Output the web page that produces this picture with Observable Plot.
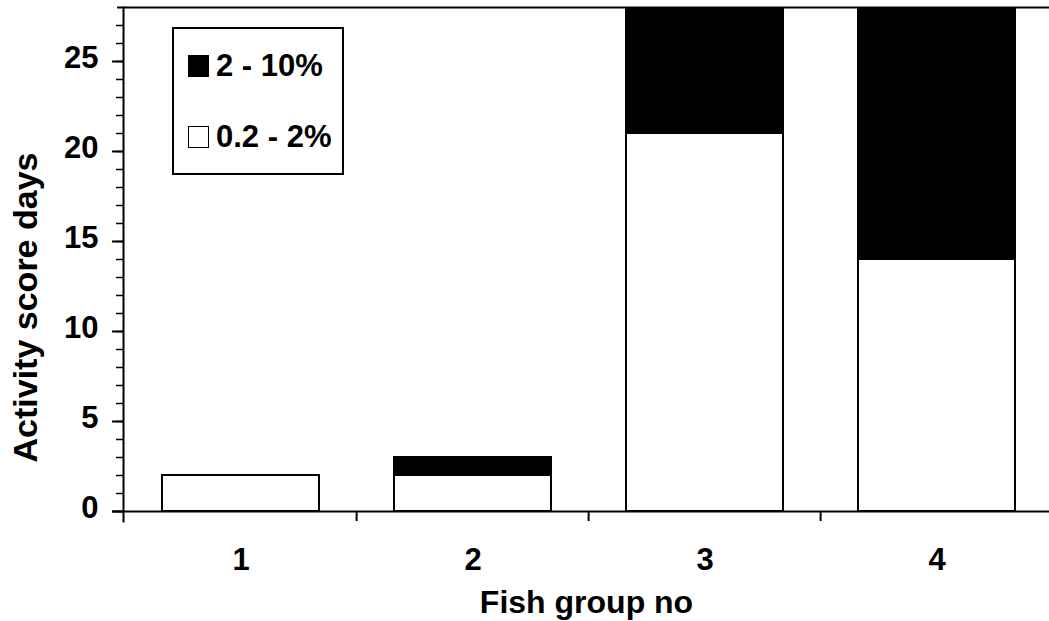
<!DOCTYPE html>
<html>
<head>
<meta charset="utf-8">
<script src="https://cdn.jsdelivr.net/npm/d3@7"></script>
<script src="https://cdn.jsdelivr.net/npm/@observablehq/plot@0.6"></script>
<style>
  html, body { margin: 0; padding: 0; background: #fff; }
  #wrap { position: relative; width: 1049px; height: 621px; font-family: "Liberation Sans", Arial, sans-serif; }
  #legend { position: absolute; left: 172px; top: 27px; width: 168px; height: 144px; border: 2px solid #000; background: #fff; }
  .item { position: absolute; left: 14px; display: flex; align-items: center; font-size: 31px; font-weight: bold; line-height: 1; }
  .sw { width: 19px; height: 20px; border: 1.5px solid #000; margin-right: 7px; }
</style>
</head>
<body>
<div id="wrap"></div>
<script>
const groups = ["1", "2", "3", "4"];
const series = ["0.2 - 2%", "2 - 10%"];
const lowValues = [2, 2, 21, 14];   // 0.2 - 2%
const highValues = [0, 1, 7, 14];   // 2 - 10% (tops clipped at the frame)
const yMajorTicks = [0, 5, 10, 15, 20, 25];
const yMinorTicks = d3.range(0, 28);
const seriesColors = ["white", "black"];
const yLabel = "Activity score days";
const xLabel = "Fish group no";

const rows = [];
groups.forEach((g, i) => {
  rows.push({group: g, series: series[0], value: lowValues[i]});
  if (highValues[i] > 0) rows.push({group: g, series: series[1], value: highValues[i]});
});

const font = "Liberation Sans, Arial, sans-serif";

const chart = Plot.plot({
  width: 1049,
  height: 621,
  marginLeft: 123,
  marginRight: 0,
  marginTop: 7,
  marginBottom: 110,
  style: {fontFamily: font, fontSize: "31px", fontWeight: "bold", background: "white", color: "black"},
  x: {type: "band", domain: groups, range: [123, 1054], paddingInner: 0.325, paddingOuter: 0.1625, axis: null},
  y: {domain: [0, 28], axis: null},
  color: {domain: series, range: seriesColors},
  marks: [
    Plot.barY(rows, {x: "group", y: "value", fill: "series", stroke: "black", strokeWidth: 2, clip: true}),
    Plot.ruleY([0], {stroke: "black", strokeWidth: 2, insetLeft: -11}),
    Plot.ruleY([28], {stroke: "black", strokeWidth: 2, insetLeft: -6}),
    Plot.frame({anchor: "left", stroke: "black", strokeWidth: 2, insetBottom: -10}),
    Plot.axisY(yMinorTicks, {tickSize: 7, tickFormat: () => "", strokeWidth: 1.5, label: null}),
    Plot.axisY(yMajorTicks, {tickSize: 11, tickFormat: () => "", strokeWidth: 2, label: null}),
    Plot.axisY(yMajorTicks, {tickSize: 0, tickPadding: 25, dy: -3, fontSize: 31, fontWeight: "bold", label: null}),
    Plot.axisX(groups.slice(1), {dx: -116.375, tickSize: 10, tickFormat: () => "", strokeWidth: 2, label: null}),
    Plot.axisX(groups, {tickSize: 0, tickPadding: 36, fontSize: 31, fontWeight: "bold", label: null}),
    Plot.text([yLabel], {frameAnchor: "left", textAnchor: "middle", lineAnchor: "middle", dx: -97, dy: 48, rotate: -90, fontSize: 34, fontWeight: "bold"}),
    Plot.text([xLabel], {frameAnchor: "bottom", textAnchor: "middle", lineAnchor: "middle", dy: 91, fontSize: 32, fontWeight: "bold"})
  ]
});

const wrap = document.getElementById("wrap");
wrap.appendChild(chart);

const legend = document.createElement("div");
legend.id = "legend";
[[series[1], seriesColors[1], 21], [series[0], seriesColors[0], 92]].forEach(([name, color, top]) => {
  const item = document.createElement("div");
  item.className = "item";
  item.style.top = top + "px";
  const sw = document.createElement("span");
  sw.className = "sw";
  sw.style.background = color;
  item.appendChild(sw);
  item.appendChild(document.createTextNode(name));
  legend.appendChild(item);
});
wrap.appendChild(legend);
</script>
</body>
</html>
